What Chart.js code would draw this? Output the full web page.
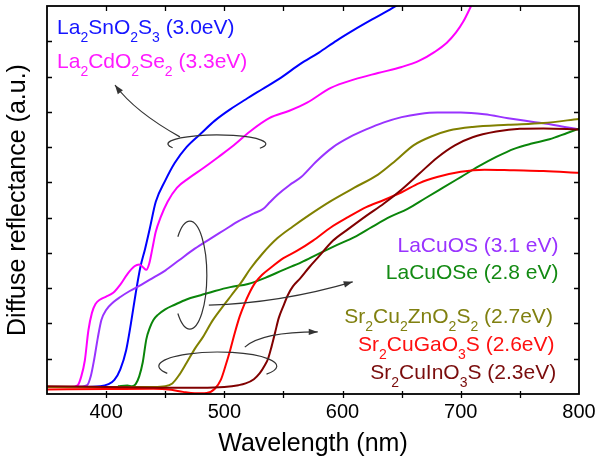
<!DOCTYPE html>
<html lang="en">
<head>
  <meta charset="UTF-8">
  <title>Diffuse reflectance</title>
  <script src="https://cdn.jsdelivr.net/npm/chart.js"></script>
  <style>
    html, body { margin: 0; padding: 0; background: #fff; }
    #box { width: 596px; height: 459px; position: relative; }
  </style>
</head>
<body>
  <div id="box"><canvas id="gf"></canvas></div>

<script>
  // wavelength (nm) / reflectance (a.u.)
  const snNm = [350, 380, 395, 402, 407, 412, 417, 421, 425, 429, 433, 437, 442, 450, 458, 468, 480, 492, 505, 518, 532, 548, 564, 580, 595, 610, 625, 640, 650, 660]
  const snR = [0.2, 0.2, 0.22, 0.28, 0.4, 0.7, 1.25, 2.0, 2.85, 3.6, 4.12, 4.7, 5.45, 6.05, 6.55, 7.0, 7.38, 7.75, 8.07, 8.35, 8.64, 8.97, 9.35, 9.68, 10.02, 10.33, 10.62, 10.9, 11.1, 11.3]

  const cdNm = [350, 370, 376, 379, 382, 385, 388, 391, 395, 400, 406, 412, 418, 424, 428, 431, 434, 436.5, 439, 442, 446, 452, 460, 470, 482, 495, 508, 522, 538, 555, 570, 590, 610, 630, 650, 665, 678, 688, 696, 702, 708, 714]
  const cdR = [0.2, 0.2, 0.25, 0.5, 0.95, 1.8, 2.3, 2.55, 2.68, 2.76, 2.87, 3.1, 3.4, 3.62, 3.67, 3.6, 3.52, 3.7, 4.1, 4.6, 5.0, 5.45, 5.85, 6.12, 6.4, 6.72, 7.05, 7.45, 7.82, 8.03, 8.26, 8.68, 8.92, 9.1, 9.27, 9.45, 9.7, 9.95, 10.25, 10.55, 10.95, 11.4]

  const osNm = [350, 375, 384, 387, 390, 393, 396, 400, 406, 412, 420, 430, 440, 450, 462, 475, 488, 500, 512, 525, 533, 538, 545, 555, 565, 578, 592, 606, 620, 635, 650, 665, 680, 700, 720, 740, 760, 780, 800]
  const osR = [0.2, 0.2, 0.25, 0.5, 1.0, 1.6, 2.1, 2.38, 2.6, 2.75, 2.92, 3.1, 3.3, 3.5, 3.8, 4.12, 4.4, 4.65, 4.9, 5.12, 5.25, 5.42, 5.65, 5.92, 6.15, 6.6, 7.0, 7.28, 7.5, 7.7, 7.85, 7.94, 7.98, 7.98, 7.93, 7.82, 7.72, 7.62, 7.5]

  const oseNm = [410, 418, 422, 425, 428, 431, 434, 437, 440, 444, 450, 458, 468, 480, 492, 505, 520, 535, 550, 565, 580, 595, 610, 625, 640, 655, 670, 685, 700, 715, 730, 745, 760, 775, 790, 800]
  const oseR = [0.22, 0.24, 0.22, 0.28, 0.5, 0.9, 1.55, 1.88, 2.1, 2.25, 2.4, 2.53, 2.68, 2.8, 2.92, 3.03, 3.12, 3.3, 3.52, 3.73, 3.98, 4.22, 4.45, 4.74, 5.02, 5.25, 5.55, 5.85, 6.15, 6.45, 6.72, 6.95, 7.1, 7.22, 7.4, 7.52]

  const znNm = [350, 400, 440, 450, 456, 462, 468, 475, 482, 490, 498, 506, 514, 522, 532, 545, 558, 572, 590, 610, 630, 645, 660, 675, 690, 710, 740, 770, 800]
  const znR = [0.2, 0.2, 0.2, 0.22, 0.3, 0.55, 0.88, 1.28, 1.62, 2.08, 2.45, 2.8, 3.15, 3.55, 3.97, 4.42, 4.75, 5.08, 5.47, 5.85, 6.22, 6.62, 7.05, 7.3, 7.47, 7.57, 7.63, 7.68, 7.8]

  const gaNm = [350, 400, 440, 455, 465, 475, 485, 492, 497, 501, 505, 509, 513, 517, 521, 526, 532, 540, 550, 562, 575, 590, 605, 620, 635, 650, 665, 680, 700, 720, 745, 770, 800]
  const gaR = [0.13, 0.14, 0.15, 0.12, 0.06, 0.02, 0.03, 0.15, 0.4, 0.8, 1.25, 1.75, 2.2, 2.55, 2.85, 3.15, 3.38, 3.6, 3.85, 4.07, 4.35, 4.72, 5.02, 5.3, 5.5, 5.72, 5.98, 6.15, 6.3, 6.36, 6.34, 6.32, 6.27]

  const inNm = [350, 400, 450, 480, 500, 512, 518, 525, 530, 534, 537, 540, 543, 546, 550, 554, 558, 564, 572, 580, 592, 605, 620, 635, 650, 665, 680, 695, 710, 730, 750, 770, 800]
  const inR = [0.22, 0.2, 0.18, 0.18, 0.2, 0.25, 0.3, 0.42, 0.59, 0.8, 1.0, 1.35, 1.75, 2.15, 2.5, 2.82, 3.05, 3.27, 3.6, 3.9, 4.35, 4.68, 5.05, 5.4, 5.8, 6.25, 6.7, 7.05, 7.28, 7.44, 7.52, 7.53, 7.5]

  const xTicks = [400, 500, 600, 700, 800]

  const FONT = 'Arial, "Liberation Sans", sans-serif'

  function pontos(nm, r) {
    return nm.map(function (v, i) { return { x: v, y: r[i] } })
  }

  function serie(nome, nm, r, cor) {
    return {
      label: nome,
      data: pontos(nm, r),
      borderColor: cor,
      borderWidth: 2,
      pointRadius: 0,
      fill: false,
      cubicInterpolationMode: 'monotone'
    }
  }

  // text labels (anchored in data units), "_2" = subscript
  const rotulos = [
    { t: 'La_2SnO_2S_3 (3.0eV)', cor: '#1515ff', x: 358.5, y: 10.21, al: 'left' },
    { t: 'La_2CdO_2Se_2 (3.3eV)', cor: '#ff1aff', x: 358.5, y: 9.23, al: 'left' },
    { t: 'LaCuOS (3.1 eV)', cor: '#9933ff', x: 782.7, y: 4.03, al: 'right' },
    { t: 'LaCuOSe (2.8 eV)', cor: '#138a13', x: 782.7, y: 3.25, al: 'right' },
    { t: 'Sr_2Cu_2ZnO_2S_2 (2.7eV)', cor: '#808010', x: 777.9, y: 2.0, al: 'right' },
    { t: 'Sr_2CuGaO_3S (2.6eV)', cor: '#ff1010', x: 779.3, y: 1.23, al: 'right' },
    { t: 'Sr_2CuInO_3S (2.3eV)', cor: '#7a0c0c', x: 780.7, y: 0.43, al: 'right' }
  ]

  function textoRico(ctx, txt, x, y, al, cor) {
    const partes = txt.split(/(_\d)/).filter(function (p) { return p !== '' })
    const fMain = '21px ' + FONT
    const fSub = '14px ' + FONT
    let larg = 0
    partes.forEach(function (p) {
      ctx.font = p[0] === '_' ? fSub : fMain
      larg += ctx.measureText(p[0] === '_' ? p.slice(1) : p).width
    })
    let cx = al === 'right' ? x - larg : x
    ctx.fillStyle = cor
    ctx.textAlign = 'left'
    ctx.textBaseline = 'alphabetic'
    partes.forEach(function (p) {
      const sub = p[0] === '_'
      const s = sub ? p.slice(1) : p
      ctx.font = sub ? fSub : fMain
      ctx.fillText(s, cx, sub ? y + 8 : y)
      cx += ctx.measureText(s).width
    })
  }

  function seta(ctx, p0, p1, p2) {
    ctx.beginPath()
    ctx.moveTo(p0[0], p0[1])
    ctx.quadraticCurveTo(p1[0], p1[1], p2[0], p2[1])
    ctx.stroke()
    const ang = Math.atan2(p2[1] - p1[1], p2[0] - p1[0])
    const L = 9, W = 3.2
    ctx.beginPath()
    ctx.moveTo(p2[0], p2[1])
    ctx.lineTo(p2[0] - L * Math.cos(ang) + W * Math.sin(ang), p2[1] - L * Math.sin(ang) - W * Math.cos(ang))
    ctx.lineTo(p2[0] - L * Math.cos(ang) - W * Math.sin(ang), p2[1] - L * Math.sin(ang) + W * Math.cos(ang))
    ctx.closePath()
    ctx.fill()
  }

  const moldura = {
    id: 'moldura',
    afterDatasetsDraw(chart) {
      const ctx = chart.ctx
      const a = chart.chartArea
      const sx = chart.scales.x
      const sy = chart.scales.y
      const P = function (nm, v) { return [sx.getPixelForValue(nm), sy.getPixelForValue(v)] }

      ctx.save()
      // frame + ticks
      ctx.strokeStyle = '#000'
      ctx.lineWidth = 1.8
      ctx.strokeRect(a.left, a.top, a.right - a.left, a.bottom - a.top)
      ctx.lineWidth = 1.3
      ctx.beginPath()
      for (let v = 1; v <= 10; v++) {
        const py = Math.round(sy.getPixelForValue(v)) + 0.5
        ctx.moveTo(a.left, py); ctx.lineTo(a.left + 5, py)
        ctx.moveTo(a.right, py); ctx.lineTo(a.right - 5, py)
      }
      for (let nm = 400; nm < 800; nm += 50) {
        const px = Math.round(sx.getPixelForValue(nm)) + 0.5
        ctx.moveTo(px, a.top); ctx.lineTo(px, a.top + 5)
        ctx.moveTo(px, a.bottom - 3); ctx.lineTo(px, a.bottom + 4)
      }
      ctx.stroke()

      // annotation loops and arrows
      ctx.strokeStyle = '#333'
      ctx.fillStyle = '#333'
      ctx.lineWidth = 1.2
      const elipse = function (cnm, cv, rnm, rv, a0, a1) {
        const c = P(cnm, cv)
        const rx = sx.getPixelForValue(cnm + rnm) - c[0]
        const ry = sy.getPixelForValue(cv) - sy.getPixelForValue(cv + rv)
        ctx.beginPath()
        ctx.ellipse(c[0], c[1], rx, ry, 0, a0, a1)
        ctx.stroke()
      }
      elipse(493.7, 7.09, 41.4, 0.255, 2.7, 0.5 + 2 * Math.PI)
      seta(ctx, P(462.4, 7.29), P(424.4, 8.0), P(407.5, 8.76))

      elipse(470.8, 3.37, 14.4, 1.53, -2.35, 2.35)
      seta(ctx, P(486.9, 2.52), P(547.7, 2.58), P(608.6, 3.18))

      elipse(494.5, 0.79, 49.9, 0.4, 2.6, 0.6 + 2 * Math.PI)
      seta(ctx, P(517.3, 1.33), P(531.7, 1.76), P(579.0, 1.76))

      rotulos.forEach(function (r) {
        const p = P(r.x, r.y)
        textoRico(ctx, r.t, p[0], p[1], r.al, r.cor)
      })
      ctx.restore()
    }
  }

  Chart.defaults.font.family = FONT
  Chart.defaults.color = '#000'

  new Chart(document.getElementById('gf'), {
    type: 'line',
    data: {
      datasets: [
        serie('Sr2CuInO3S', inNm, inR, '#800000'),
        serie('Sr2CuGaO3S', gaNm, gaR, '#ff0000'),
        serie('Sr2Cu2ZnO2S2', znNm, znR, '#808000'),
        serie('LaCuOSe', oseNm, oseR, '#0a850a'),
        serie('LaCuOS', osNm, osR, '#9933ff'),
        serie('La2CdO2Se2', cdNm, cdR, '#ff00ff'),
        serie('La2SnO2S3', snNm, snR, '#0000ff')
      ]
    },
    options: {
      responsive: true,
      maintainAspectRatio: false,
      animation: false,
      layout: { padding: { left: 0, right: 17, top: 6, bottom: 0 } },
      plugins: { legend: { display: false }, tooltip: { enabled: false } },
      scales: {
        x: {
          type: 'linear',
          min: 350,
          max: 800,
          afterBuildTicks: function (s) { s.ticks = xTicks.map(function (v) { return { value: v } }) },
          afterFit: function (s) {
            s.height = 65
            s.paddingLeft = 0
            s.paddingRight = 0
          },
          grid: { display: false, drawTicks: false },
          border: { display: false },
          ticks: { padding: 6, maxRotation: 0, autoSkip: false, font: { size: 20 } },
          title: { display: true, text: 'Wavelength (nm)', font: { size: 25 }, padding: 0 }
        },
        y: {
          min: 0,
          max: 11,
          afterFit: function (s) { s.width = 47 },
          grid: { display: false, drawTicks: false },
          border: { display: false },
          ticks: { display: false },
          title: { display: true, text: 'Diffuse reflectance (a.u.)', font: { size: 25 }, padding: { top: 3 } }
        }
      }
    },
    plugins: [moldura]
  })
</script>
</body>
</html>
